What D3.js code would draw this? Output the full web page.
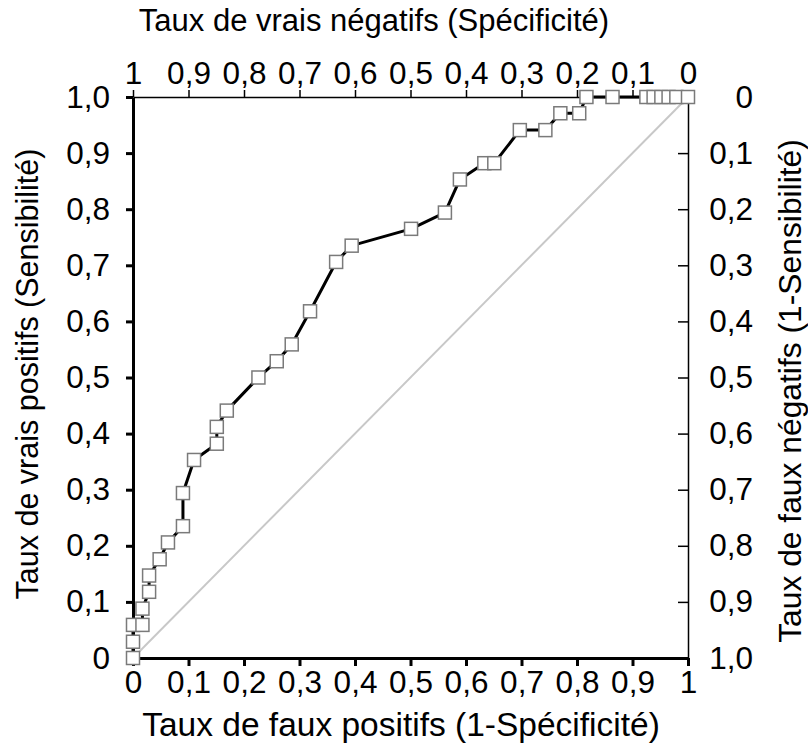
<!DOCTYPE html>
<html>
<head>
<meta charset="utf-8">
<script src="https://cdn.jsdelivr.net/npm/d3@7"></script>
<style>
  html, body { margin: 0; padding: 0; background: #fff; }
  svg { display: block; font-family: "Liberation Sans", Arial, sans-serif; }
</style>
</head>
<body>
<svg id="chart" width="808" height="751"></svg>
<script>
// ROC curve points: false positive rate (1 - specificity) and true positive rate (sensitivity)
const fpr = [0, 0, 0, 0.017, 0.017, 0.029, 0.029, 0.048, 0.063, 0.09, 0.09, 0.11,
  0.151, 0.151, 0.169, 0.226, 0.259, 0.286, 0.319, 0.366, 0.394, 0.501, 0.562,
  0.589, 0.633, 0.651, 0.697, 0.743, 0.77, 0.804, 0.817, 0.864, 0.925, 0.938,
  0.952, 0.965, 0.979, 1];
const tpr = [0, 0.029, 0.059, 0.059, 0.088, 0.118, 0.147, 0.176, 0.206, 0.235,
  0.294, 0.353, 0.382, 0.412, 0.441, 0.5, 0.529, 0.559, 0.618, 0.706, 0.735,
  0.765, 0.794, 0.853, 0.882, 0.882, 0.941, 0.941, 0.971, 0.971, 1, 1, 1, 1,
  1, 1, 1, 1];

const tickValues = [0, 0.1, 0.2, 0.3, 0.4, 0.5, 0.6, 0.7, 0.8, 0.9, 1];
const bottomLabels = ["0", "0,1", "0,2", "0,3", "0,4", "0,5", "0,6", "0,7", "0,8", "0,9", "1"];
const topLabels = ["1", "0,9", "0,8", "0,7", "0,6", "0,5", "0,4", "0,3", "0,2", "0,1", "0"];
const leftLabels = ["0", "0,1", "0,2", "0,3", "0,4", "0,5", "0,6", "0,7", "0,8", "0,9", "1,0"];
const rightLabels = ["1,0", "0,9", "0,8", "0,7", "0,6", "0,5", "0,4", "0,3", "0,2", "0,1", "0"];

const titleTop = "Taux de vrais négatifs (Spécificité)";
const titleBottom = "Taux de faux positifs (1-Spécificité)";
const titleLeft = "Taux de vrais positifs (Sensibilité)";
const titleRight = "Taux de faux négatifs (1-Sensibilité)";

const svg = d3.select("#chart");
const x = d3.scaleLinear().domain([0, 1]).range([133, 688]);
const y = d3.scaleLinear().domain([0, 1]).range([658, 97]);
const fontSize = 31.5;

// Reference diagonal
svg.append("line")
  .attr("x1", x(0)).attr("y1", y(0)).attr("x2", x(1)).attr("y2", y(1))
  .attr("stroke", "#c8c8c8").attr("stroke-width", 2);

// Axes
function styleAxis(g, width, labels) {
  g.select(".domain").attr("stroke", "#000").attr("stroke-width", width);
  g.selectAll(".tick line").attr("stroke", "#000").attr("stroke-width", width);
  g.selectAll(".tick text")
    .attr("font-size", fontSize)
    .attr("fill", "#000")
    .attr("font-family", "'Liberation Sans', Arial, sans-serif")
    .text((d, i) => labels[i]);
}

const topAxis = svg.append("g").attr("transform", `translate(0,${y(1)})`)
  .call(d3.axisTop(x).tickValues(tickValues).tickSize(7).tickSizeOuter(0).tickPadding(6));
styleAxis(topAxis, 1.5, topLabels);

const rightAxis = svg.append("g").attr("transform", `translate(${x(1)},0)`)
  .call(d3.axisRight(y).tickValues(tickValues).tickSize(-10).tickSizeOuter(0).tickPadding(0));
styleAxis(rightAxis, 1.5, rightLabels);
rightAxis.selectAll(".tick text").attr("text-anchor", "end").attr("x", 65);

const bottomAxis = svg.append("g").attr("transform", `translate(0,${y(0)})`)
  .call(d3.axisBottom(x).tickValues(tickValues).tickSize(8).tickSizeOuter(0).tickPadding(5));
styleAxis(bottomAxis, 3, bottomLabels);

const leftAxis = svg.append("g").attr("transform", `translate(${x(0)},0)`)
  .call(d3.axisLeft(y).tickValues(tickValues).tickSize(7).tickSizeOuter(0).tickPadding(16));
styleAxis(leftAxis, 3, leftLabels);

// ROC curve
const pts = fpr.map((f, i) => [f, tpr[i]]);
svg.append("path")
  .datum(pts)
  .attr("fill", "none")
  .attr("stroke", "#000")
  .attr("stroke-width", 3)
  .attr("stroke-linejoin", "round")
  .attr("d", d3.line().x(d => x(d[0])).y(d => y(d[1])));

const sq = 13;
svg.append("g").selectAll("rect")
  .data(pts)
  .join("rect")
  .attr("x", d => x(d[0]) - sq / 2)
  .attr("y", d => y(d[1]) - sq / 2)
  .attr("width", sq).attr("height", sq)
  .attr("fill", "#fff")
  .attr("stroke", "#7a7a7a")
  .attr("stroke-width", 1.5);

// Axis titles
svg.append("text").attr("x", 374).attr("y", 31).attr("text-anchor", "middle")
  .attr("font-size", 31).text(titleTop);
svg.append("text").attr("x", 401).attr("y", 736).attr("text-anchor", "middle")
  .attr("font-size", 33.5).text(titleBottom);
svg.append("text").attr("transform", `translate(38,374) rotate(-90)`).attr("text-anchor", "middle")
  .attr("font-size", 30.5).text(titleLeft);
svg.append("text").attr("transform", `translate(801,391) rotate(-90)`).attr("text-anchor", "middle")
  .attr("font-size", 31.8).text(titleRight);
</script>
</body>
</html>
